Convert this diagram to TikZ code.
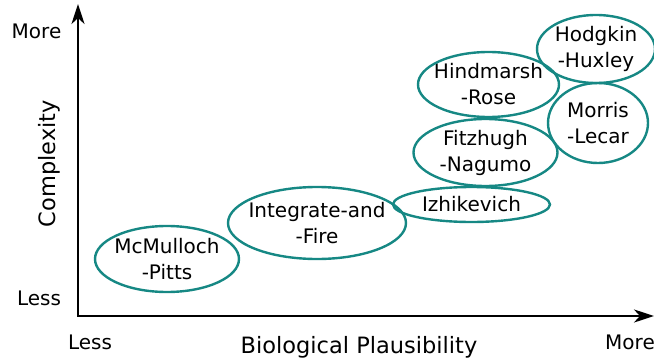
\documentclass[tikz,border=0pt]{standalone}
\usepackage{fontspec}
\setmainfont{DejaVu Sans}
\usetikzlibrary{arrows.meta}
\definecolor{modelteal}{RGB}{22,136,132}
\begin{document}
\begin{tikzpicture}[x=1pt, y=-1pt,
	model/.style={align=center, inner sep=0pt, font=\fontsize{20}{26}\selectfont},
	ring/.style={draw=modelteal, line width=2.4pt},
	tick/.style={anchor=base, inner sep=0pt, font=\fontsize{20}{24}\selectfont},
	axistitle/.style={anchor=base, inner sep=0pt, font=\fontsize{22.5}{27}\selectfont}]
	\useasboundingbox (0,0) rectangle (654,359);
	% axes
	\coordinate (ytop) at (78,4);
	\coordinate (origin) at (78,316);
	\coordinate (xend) at (654,316);
	\draw[line width=2.6pt, {Stealth[length=20pt, width=13pt, inset=6pt]}-{Stealth[length=20pt, width=13pt, inset=6pt]}] (ytop) -- (origin) -- (xend);
	\node[tick] (ymore) at (36.5,38) {More};
	\node[tick] (yless) at (39,305) {Less};
	\node[tick] (xless) at (90,349) {Less};
	\node[tick] (xmore) at (630,349) {More};
	\node[axistitle] (xtitle) at (359,353) {Biological Plausibility};
	\node[axistitle, rotate=90] (ytitle) at (55,163.5) {Complexity};
	% neuron models
	\node[model] (mcp) at (167,259) {McMulloch\\-Pitts};
	\draw[ring] (mcp.center) ellipse [x radius=72pt, y radius=33pt];
	\node[model] (iaf) at (317,223) {Integrate-and\\-Fire};
	\draw[ring] (iaf.center) ellipse [x radius=89pt, y radius=36pt];
	\node[model] (izh) at (471.5,204.5) {Izhikevich};
	\draw[ring] (izh.center) ellipse [x radius=78.5pt, y radius=17.5pt];
	\node[model] (fhn) at (485.5,152.5) {Fitzhugh\\-Nagumo};
	\draw[ring] (fhn.center) ellipse [x radius=72pt, y radius=33.5pt];
	\node[model] (hr) at (488.5,84.5) {Hindmarsh\\-Rose};
	\draw[ring] (hr.center) ellipse [x radius=70.5pt, y radius=32.5pt];
	\node[model] (hh) at (596,49) {Hodgkin\\-Huxley};
	\draw[ring] (hh.center) ellipse [x radius=59pt, y radius=34pt];
	\node[model] (ml) at (598,123) {Morris\\-Lecar};
	\draw[ring] (ml.center) ellipse [x radius=50pt, y radius=40pt];
\end{tikzpicture}
\end{document}
